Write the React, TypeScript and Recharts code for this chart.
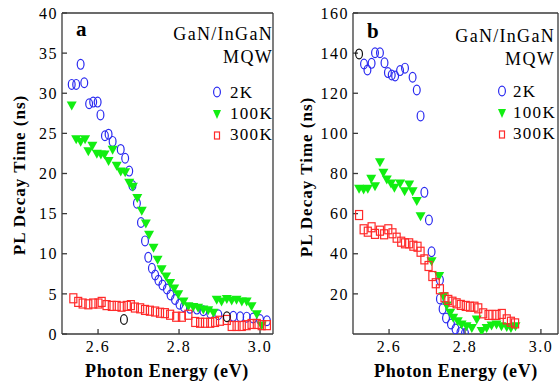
import { ScatterChart, Scatter, XAxis, YAxis } from 'recharts';

// panel a (tau up to 40 ns)
const a2kE = [2.535, 2.546, 2.557, 2.566, 2.578, 2.588, 2.599, 2.606, 2.617, 2.626, 2.636, 2.656, 2.667, 2.677, 2.685, 2.696, 2.706, 2.716, 2.724, 2.733, 2.741, 2.749, 2.759, 2.77, 2.779, 2.79, 2.801, 2.812, 2.827, 2.844, 2.86, 2.877, 2.897, 2.934, 2.951, 2.967, 2.983, 3.0, 3.017];
const a2kT = [31.1, 31.1, 33.6, 31.3, 28.7, 28.9, 28.9, 27.3, 24.7, 24.9, 24.0, 23.0, 21.9, 20.3, 18.5, 16.3, 13.9, 11.6, 9.55, 8.2, 7.35, 6.7, 6.1, 5.6, 4.86, 4.3, 3.7, 3.4, 3.2, 3.1, 2.9, 2.6, 2.4, 2.2, 2.15, 2.1, 2.0, 1.8, 1.65];
const a100E = [2.535, 2.546, 2.557, 2.568, 2.576, 2.586, 2.597, 2.607, 2.616, 2.626, 2.636, 2.646, 2.656, 2.667, 2.677, 2.686, 2.697, 2.708, 2.718, 2.726, 2.737, 2.747, 2.757, 2.768, 2.778, 2.788, 2.798, 2.811, 2.823, 2.835, 2.847, 2.86, 2.872, 2.885, 2.893, 2.905, 2.918, 2.93, 2.942, 2.955, 2.967, 2.979, 2.992, 3.004];
const a100T = [28.4, 24.2, 23.9, 24.2, 22.7, 23.4, 22.4, 22.3, 22.3, 21.5, 22.9, 20.9, 20.2, 20.1, 18.8, 18.3, 16.9, 15.3, 13.7, 12.3, 10.7, 9.2, 8.0, 7.1, 6.3, 5.6, 4.9, 4.0, 3.4, 3.3, 3.2, 3.0, 2.9, 2.6, 4.2, 4.0, 4.3, 4.1, 4.2, 4.0, 4.0, 3.4, 2.4, 1.0];
const a300E = [2.539, 2.551, 2.562, 2.576, 2.588, 2.601, 2.609, 2.621, 2.634, 2.646, 2.658, 2.671, 2.681, 2.691, 2.704, 2.716, 2.728, 2.741, 2.753, 2.765, 2.778, 2.793, 2.807, 2.823, 2.84, 2.852, 2.864, 2.877, 2.889, 2.901, 2.918, 2.93, 2.942, 2.955, 2.967, 2.979, 2.992, 3.004, 3.017];
const a300T = [4.45, 4.0, 3.8, 3.7, 3.8, 3.8, 4.0, 3.6, 3.5, 3.5, 3.4, 3.5, 3.6, 3.3, 3.2, 3.0, 2.9, 2.8, 2.65, 2.6, 2.4, 2.15, 2.15, 2.4, 1.5, 1.4, 1.4, 1.4, 1.5, 1.65, 1.75, 1.0, 1.0, 1.0, 1.1, 1.25, 1.25, 1.1, 1.1];
const aOddE = [2.664, 2.918];
const aOddT = [1.8, 2.15];

// panel b (tau up to 160 ns)
const b2kE = [2.534, 2.543, 2.554, 2.563, 2.576, 2.588, 2.597, 2.607, 2.616, 2.629, 2.642, 2.662, 2.673, 2.683, 2.693, 2.705, 2.712, 2.734, 2.734, 2.741, 2.75, 2.763, 2.775, 2.788, 2.8];
const b2kT = [134.6, 131.6, 134.9, 140.2, 140.2, 135.2, 130.3, 129.1, 128.6, 131.3, 132.5, 128.0, 121.6, 108.7, 70.6, 56.8, 41.0, 26.9, 17.5, 12.5, 8.0, 5.0, 2.5, 0.8, 0.3];
const b100E = [2.521, 2.533, 2.544, 2.553, 2.563, 2.576, 2.585, 2.594, 2.605, 2.614, 2.629, 2.641, 2.653, 2.662, 2.673, 2.683, 2.712, 2.732, 2.743, 2.752, 2.761, 2.769, 2.781, 2.791, 2.804, 2.818, 2.831, 2.844, 2.857, 2.87, 2.883, 2.896, 2.91, 2.921, 2.933];
const b100T = [72.1, 71.8, 72.1, 77.1, 73.4, 85.4, 80.1, 76.8, 74.8, 72.6, 74.8, 70.9, 74.3, 70.9, 66.0, 58.5, 36.0, 28.6, 18.6, 14.0, 10.3, 7.8, 6.1, 4.5, 3.6, 2.8, 7.0, 1.2, 2.8, 4.0, 4.5, 3.6, 3.3, 2.8, 3.6];
const b300E = [2.521, 2.533, 2.544, 2.554, 2.563, 2.576, 2.587, 2.598, 2.609, 2.62, 2.632, 2.642, 2.653, 2.664, 2.675, 2.683, 2.693, 2.704, 2.714, 2.723, 2.734, 2.746, 2.756, 2.767, 2.778, 2.789, 2.802, 2.813, 2.825, 2.835, 2.848, 2.862, 2.872, 2.883, 2.897, 2.91, 2.921, 2.932];
const b300T = [59.3, 52.2, 51.0, 53.2, 49.9, 51.5, 49.7, 52.2, 50.2, 48.0, 46.0, 45.2, 45.2, 44.0, 43.5, 41.0, 37.2, 33.9, 28.9, 25.3, 22.3, 18.3, 17.0, 16.1, 15.3, 14.5, 14.0, 13.6, 13.6, 12.8, 10.3, 9.5, 9.5, 9.5, 10.0, 7.3, 6.1, 5.3];
const bOddE = [2.521];
const bOddT = [139.6];

const energyTicks = [2.6, 2.8, 3.0];
const aTicks = [0, 5, 10, 15, 20, 25, 30, 35, 40];
const bTicks = [20, 40, 60, 80, 100, 120, 140, 160];
const legendNames = ['2K', '100K', '300K'];

const FONT = '"Liberation Serif", "Times New Roman", serif';
const BLUE = '#2a2af0';
const GREEN = '#11ee11';
const RED = '#ff2a2a';
const AXIS = '#3a3a3a';

const zip = (e: number[], t: number[]) => e.map((x, i) => ({ x, y: t[i] }));

const Ring = (color: string) => (p: any) => (
    <ellipse cx={p.cx} cy={p.cy} rx={3.4} ry={4.9} fill="none" stroke={color} strokeWidth={1.2} />
);
const Tri = (p: any) => (
    <polygon points={`${p.cx - 5},${p.cy - 4.5} ${p.cx + 5},${p.cy - 4.5} ${p.cx},${p.cy + 4.5}`} fill={GREEN} />
);
const Box = (p: any) => (
    <rect x={p.cx - 3.5} y={p.cy - 4.5} width={7} height={9} fill="none" stroke={RED} strokeWidth={1.2} />
);

const tickStyle = { fontSize: 16, fill: '#000', fontFamily: FONT, letterSpacing: 1.5 };

interface PanelProps {
    s2k: { x: number; y: number }[];
    s100: { x: number; y: number }[];
    s300: { x: number; y: number }[];
    odd: { x: number; y: number }[];
    xDomain: [number, number];
    yMax: number;
    yTicks: number[];
    left: number;
    right: number;
}

function Panel({ s2k, s100, s300, odd, xDomain, yMax, yTicks, left, right }: PanelProps) {
    return (
        <ScatterChart width={280} height={383} margin={{ top: 12, right, bottom: 19, left }}>
            <XAxis type="number" dataKey="x" domain={xDomain} ticks={energyTicks} allowDataOverflow
                tickFormatter={(v: number) => v.toFixed(1)} height={30} stroke={AXIS} strokeWidth={1.3}
                tickSize={-5} tickMargin={12} tick={tickStyle} />
            <XAxis xAxisId="top" orientation="top" type="number" domain={xDomain} ticks={energyTicks}
                allowDataOverflow height={1} stroke={AXIS} strokeWidth={1.3} tickSize={-5} tickFormatter={() => ''} />
            <YAxis type="number" dataKey="y" domain={[0, yMax]} ticks={yTicks} allowDataOverflow width={50}
                stroke={AXIS} strokeWidth={1.3} tickSize={-5} tickMargin={9} tick={tickStyle} />
            <YAxis yAxisId="right" orientation="right" type="number" domain={[0, yMax]} ticks={yTicks}
                width={1} stroke={AXIS} strokeWidth={1.3} tickSize={-5} tickFormatter={() => ''} />
            <Scatter name="2K" data={s2k} shape={Ring(BLUE)} isAnimationActive={false} />
            <Scatter name="100K" data={s100} shape={Tri} isAnimationActive={false} />
            <Scatter name="300K" data={s300} shape={Box} isAnimationActive={false} />
            <Scatter data={odd} shape={Ring('#111')} isAnimationActive={false} />
        </ScatterChart>
    );
}

function Legend({ mx, tx, y0, anchor, titleY }: { mx: number; tx: number; y0: number; anchor: number; titleY: number }) {
    const t = { fontFamily: FONT, fontSize: 17, letterSpacing: 1.3, fill: '#000' };
    return (
        <g>
            <text x={anchor} y={titleY} textAnchor="end" style={{ ...t, fontSize: 18 }}>GaN/InGaN</text>
            <text x={anchor} y={titleY + 23} textAnchor="end" style={{ ...t, fontSize: 18 }}>MQW</text>
            <ellipse cx={mx} cy={y0 - 6} rx={3.4} ry={4.9} fill="none" stroke={BLUE} strokeWidth={1.2} />
            <polygon points={`${mx - 4},${y0 + 12} ${mx + 4},${y0 + 12} ${mx},${y0 + 21}`} fill={GREEN} />
            <rect x={mx - 2.5} y={y0 + 34} width={5} height={7} fill="none" stroke={RED} strokeWidth={1.2} />
            {legendNames.map((n, i) => (
                <text key={n} x={tx} y={y0 + i * 21} style={t}>{n}</text>
            ))}
        </g>
    );
}

export default function App() {
    const title = { fontFamily: FONT, fontWeight: 700, fill: '#000' } as const;
    return (
        <div style={{ position: 'absolute', left: 0, top: 0, width: 560, height: 383, background: '#fff' }}>
            <div style={{ position: 'absolute', left: 0, top: 0 }}>
                <Panel s2k={zip(a2kE, a2kT)} s100={zip(a100E, a100T)} s300={zip(a300E, a300T)} odd={zip(aOddE, aOddT)}
                    xDomain={[2.511, 3.032]} yMax={40} yTicks={aTicks} left={12} right={6} />
            </div>
            <div style={{ position: 'absolute', left: 280, top: 0 }}>
                <Panel s2k={zip(b2kE, b2kT)} s100={zip(b100E, b100T)} s300={zip(b300E, b300T)} odd={zip(bOddE, bOddT)}
                    xDomain={[2.505, 3.045]} yMax={160} yTicks={bTicks} left={23} right={1} />
            </div>
            <svg width={560} height={383} style={{ position: 'absolute', left: 0, top: 0, pointerEvents: 'none' }}>
                <text x={76} y={36} style={{ ...title, fontSize: 21 }}>a</text>
                <text x={367} y={38} style={{ ...title, fontSize: 21 }}>b</text>
                <Legend mx={217} tx={230} y0={98} anchor={273} titleY={40} />
                <Legend mx={502} tx={513} y0={97} anchor={555} titleY={42} />
                <text x={167} y={377} textAnchor="middle" style={{ ...title, fontSize: 18, letterSpacing: 0.6 }}>Photon Energy (eV)</text>
                <text x={456} y={377} textAnchor="middle" style={{ ...title, fontSize: 18, letterSpacing: 0.6 }}>Photon Energy (eV)</text>
                <text transform="translate(25,175) rotate(-90)" textAnchor="middle" style={{ ...title, fontSize: 17, letterSpacing: 1 }}>PL Decay Time (ns)</text>
                <text transform="translate(312,177) rotate(-90)" textAnchor="middle" style={{ ...title, fontSize: 17, letterSpacing: 1 }}>PL Decay Time (ns)</text>
            </svg>
        </div>
    );
}
